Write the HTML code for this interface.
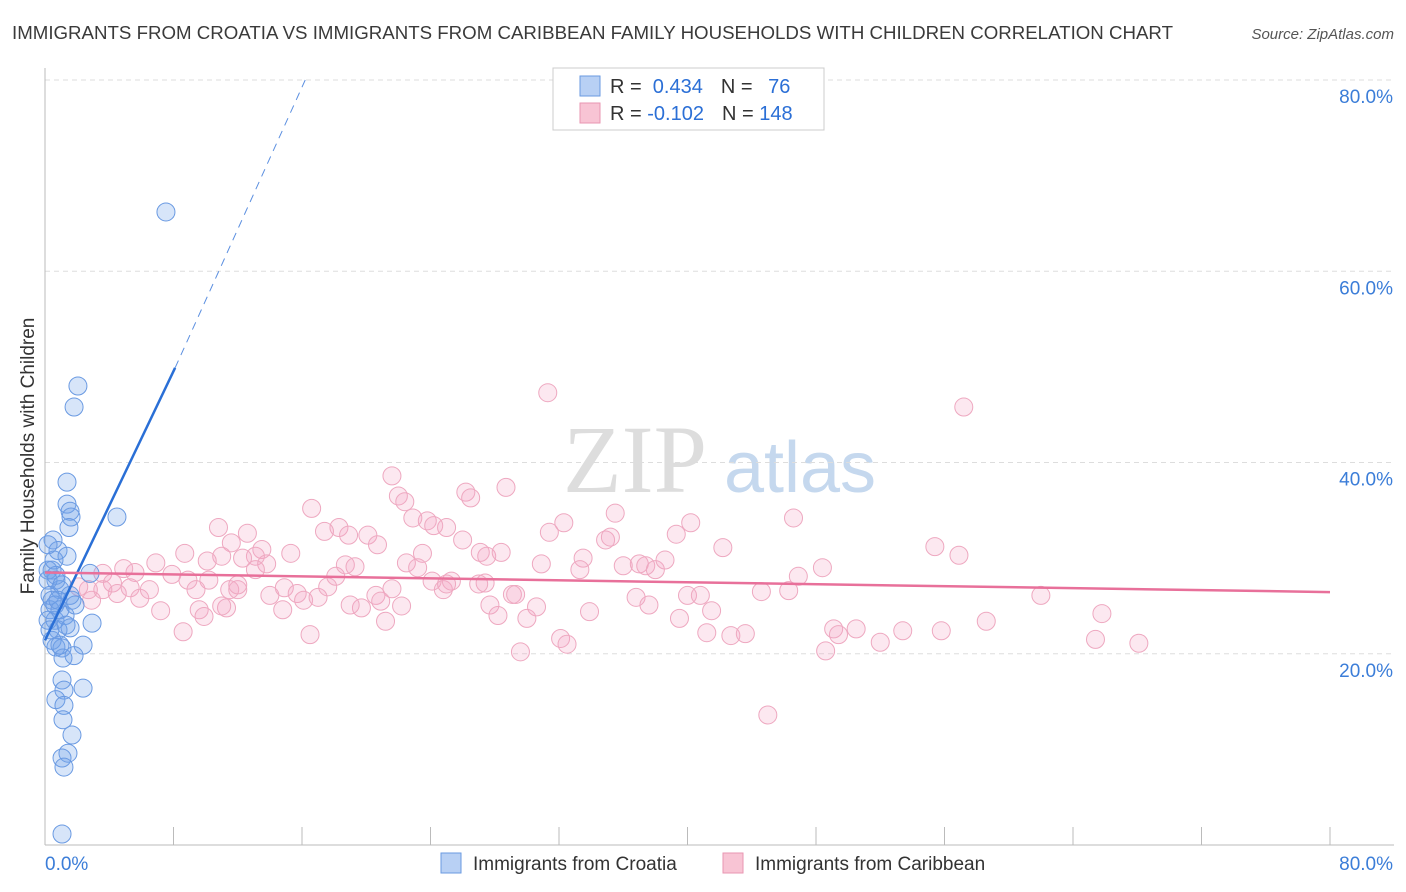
<!DOCTYPE html>
<html><head><meta charset="utf-8">
<style>
body{margin:0;background:#fff;font-family:"Liberation Sans",sans-serif;}
#wrap{position:relative;width:1406px;height:892px;overflow:hidden;}
</style></head>
<body>
<div id="wrap">
<svg id="svg" width="1406" height="892" xmlns="http://www.w3.org/2000/svg">
<text x="12" y="39" font-size="18" fill="#3a3a3a" textLength="1161" lengthAdjust="spacingAndGlyphs">IMMIGRANTS FROM CROATIA VS IMMIGRANTS FROM CARIBBEAN FAMILY HOUSEHOLDS WITH CHILDREN CORRELATION CHART</text>
<text x="1394" y="39" font-size="15" fill="#555" text-anchor="end" font-style="italic">Source: ZipAtlas.com</text>
<text x="34" y="456" font-size="19" fill="#333" text-anchor="middle" transform="rotate(-90 34 456)">Family Households with Children</text>
<g><text x="635" y="492" font-size="96" fill="#ddd" text-anchor="middle" font-family="Liberation Serif,serif">ZIP</text><text x="800" y="492" font-size="72" fill="#c5d8ee" text-anchor="middle">atlas</text></g>
<g id="grid"></g><g id="pts"></g><g id="trend"></g>
<g>
<rect x="553" y="68" width="271" height="62" fill="#fff" stroke="#ccc"/>
<rect x="580" y="76" width="20" height="20" fill="#b8d0f4" stroke="#6a9ae0"/>
<rect x="580" y="103" width="20" height="20" fill="#f8c4d4" stroke="#e896b2"/>
<text x="610" y="93" font-size="20" fill="#333">R = <tspan fill="#2b6fd6">&#160;0.434</tspan><tspan dx="18">N = </tspan><tspan fill="#2b6fd6" dx="10">76</tspan></text>
<text x="610" y="120" font-size="20" fill="#333">R = <tspan fill="#2b6fd6">-0.102</tspan><tspan dx="18">N = </tspan><tspan fill="#2b6fd6">148</tspan></text>
</g>
<g>
<rect x="441" y="853" width="20" height="20" fill="#b8d0f4" stroke="#6a9ae0"/>
<text x="473" y="870" font-size="19" fill="#333">Immigrants from Croatia</text>
<rect x="723" y="853" width="20" height="20" fill="#f8c4d4" stroke="#e896b2"/>
<text x="755" y="870" font-size="19" fill="#333">Immigrants from Caribbean</text>
</g>
</svg>
</div>
<script>
const yTicks=[20,40,60,80];
const xTickLabels=["0.0%","80.0%"];
const croatiaX=[7.53,2.05,1.81,1.37,1.37,1.56,1.62,1.49,4.48,0.5,0.81,1.37,2.8,0.44,0.68,0.93,1.68,0.31,0.62,1.25,0.81,0.44,2.93,1.56,1.06,2.37,0.68,1.81,1.12,1.06,1.18,2.37,0.68,1.18,1.12,1.68,1.43,1.06,1.18,1.06,0.19,0.31,0.44,0.19,0.62,0.93,0.31,0.19,0.68,1.06,1.56,1.87,1.31,0.81,0.56,0.19,0.93];
const croatiaY=[66.2,48.0,45.8,37.95,35.65,34.9,34.3,33.2,34.3,31.9,30.8,30.2,28.4,28.75,27.7,26.7,25.6,24.6,23.5,24.0,22.5,21.4,23.2,22.7,20.6,20.9,20.7,19.8,19.55,17.25,16.2,16.4,15.2,14.6,13.1,11.5,9.6,9.1,8.15,1.15,27.7,26.1,25.6,23.5,25.1,24.6,22.5,28.75,28.2,27.2,26.1,25.1,23.0,25.6,29.8,31.4,20.9];
const caribX=[31.3,57.2,21.6,28.7,26.2,26.5,22.0,22.4,16.6,23.8,25.0,24.2,22.9,35.5,40.2,39.3,46.6,32.3,31.4,18.3,17.4,20.1,10.8,12.6,11.6,13.5,15.3,13.1,12.3,11.0,10.1,10.2,13.8,8.7,6.9,7.9,5.6,4.9,3.6,4.2,4.5,5.3,5.9,6.5,2.7,2.9,2.1,3.6,8.9,9.4,11.5,12.0,14.0,14.9,15.7,16.1,17.0,17.6,18.1,18.7,19.3,14.8,16.5,13.1,11.3,9.6,9.9,7.2,8.6,11.0,12.0,20.7,23.5,22.5,23.2,21.6,20.6,20.9,19.7,19.0,22.2,21.2,24.1,24.8,25.3,26.0,27.1,27.5,28.4,27.4,27.7,28.2,29.1,29.3,30.0,30.6,29.6,32.1,30.9,33.5,33.3,33.9,34.9,35.2,36.0,37.0,37.4,38.0,38.6,36.8,37.6,39.5,40.0,40.8,41.5,41.2,42.7,43.6,42.2,44.6,46.3,46.9,48.4,48.6,49.1,49.4,50.5,52.0,53.4,55.8,55.4,56.9,58.6,62.0,65.8,65.4,68.1,45.0,18.9,32.5,27.0,25.0];
const caribY=[47.3,45.8,38.6,37.4,36.9,36.3,36.5,35.9,35.2,33.9,33.2,33.4,34.2,34.7,33.7,32.5,34.2,33.7,32.7,33.2,32.8,32.4,33.2,32.6,31.6,30.9,30.5,30.2,30.0,30.2,29.7,27.7,29.4,30.5,29.5,28.3,28.5,28.9,28.4,27.4,26.3,26.9,25.8,26.7,26.7,25.6,27.0,26.7,27.7,26.7,26.7,26.7,26.1,26.9,26.3,25.6,25.9,27.0,28.1,29.3,29.1,24.6,22.0,28.8,24.8,24.6,23.9,24.5,22.3,25.0,27.2,31.4,30.5,29.5,29.0,26.8,26.1,25.5,24.8,25.1,25.0,23.4,27.6,26.7,27.6,31.9,30.6,30.2,30.6,27.4,25.1,24.0,26.2,26.2,23.7,24.9,20.2,21.6,29.4,30.0,28.8,24.4,31.9,32.2,29.2,29.4,29.2,28.8,29.8,25.9,25.1,23.7,26.1,26.1,24.5,22.2,21.9,22.1,31.1,26.5,26.6,28.1,29.0,20.3,22.6,22.0,22.6,21.2,22.4,22.4,31.2,30.3,23.4,26.1,24.2,21.5,21.1,13.6,32.4,21.0,27.3,27.3];
const croatiaTrend=[21.4,49.9,80];
const croatiaTrendX=[0,8.1,16.2];
const caribTrendX=[0,80];
const caribTrendY=[28.5,26.45];
const NS="http://www.w3.org/2000/svg";
const X0=45,X1=1330,Y0=845,Y80=80;
const sx=v=>X0+(v/80)*(X1-X0);
const sy=v=>Y0-(v/80)*(Y0-Y80);
function mk(tag,attrs,parent){const e=document.createElementNS(NS,tag);for(const k in attrs)e.setAttribute(k,attrs[k]);parent.appendChild(e);return e;}
const grid=document.getElementById('grid');
for(const t of yTicks){
  const l=mk('line',{x1:X0,x2:1394,y1:sy(t),y2:sy(t),stroke:'#ddd','stroke-dasharray':'5,4'},grid);
  
  
  const tx=mk('text',{x:1393,y:sy(t)+23,'font-size':19,fill:'#3b7dd8','text-anchor':'end'},grid);
  tx.textContent=t.toFixed(1)+'%';
  
  
}
const ax=mk('line',{x1:X0,x2:X0,y1:68,y2:Y0,stroke:'#bbb'},grid);


const bx=mk('line',{x1:X0,x2:1394,y1:Y0,y2:Y0,stroke:'#bbb'},grid);


for(let i=0;i<=10;i++){
  const tk=mk('line',{x1:sx(i*8),x2:sx(i*8),y1:Y0,y2:Y0-18,stroke:'#bbb'},grid);
  
  
}
const xl0=mk('text',{x:45,y:870,'font-size':19,fill:'#3b7dd8'},grid);xl0.textContent=xTickLabels[0];


const xl1=mk('text',{x:1393,y:870,'font-size':19,fill:'#3b7dd8','text-anchor':'end'},grid);xl1.textContent=xTickLabels[1];


const pts=document.getElementById('pts');
for(let i=0;i<caribX.length;i++){
  const c=mk('circle',{cx:sx(caribX[i]),cy:sy(caribY[i]),r:9,fill:'rgba(244,165,195,0.25)',stroke:'#eea8c0','stroke-width':1},pts);
  
  
}
for(let i=0;i<croatiaX.length;i++){
  const c=mk('circle',{cx:sx(croatiaX[i]),cy:sy(croatiaY[i]),r:9,fill:'rgba(110,160,235,0.28)',stroke:'#6a9ae2','stroke-width':1},pts);
  
  
}
const tr=document.getElementById('trend');
const t1=mk('line',{x1:sx(croatiaTrendX[0]),y1:sy(croatiaTrend[0]),x2:sx(croatiaTrendX[1]),y2:sy(croatiaTrend[1]),stroke:'#2a6fd6','stroke-width':2.5},tr);


const t2=mk('line',{x1:sx(croatiaTrendX[1]),y1:sy(croatiaTrend[1]),x2:sx(croatiaTrendX[2]),y2:sy(croatiaTrend[2]),stroke:'#5b8fe0','stroke-width':1,'stroke-dasharray':'8,6'},tr);


const t3=mk('line',{x1:sx(caribTrendX[0]),y1:sy(caribTrendY[0]),x2:sx(caribTrendX[1]),y2:sy(caribTrendY[1]),stroke:'#e8709a','stroke-width':2.5},tr);


</script>
</body></html>
